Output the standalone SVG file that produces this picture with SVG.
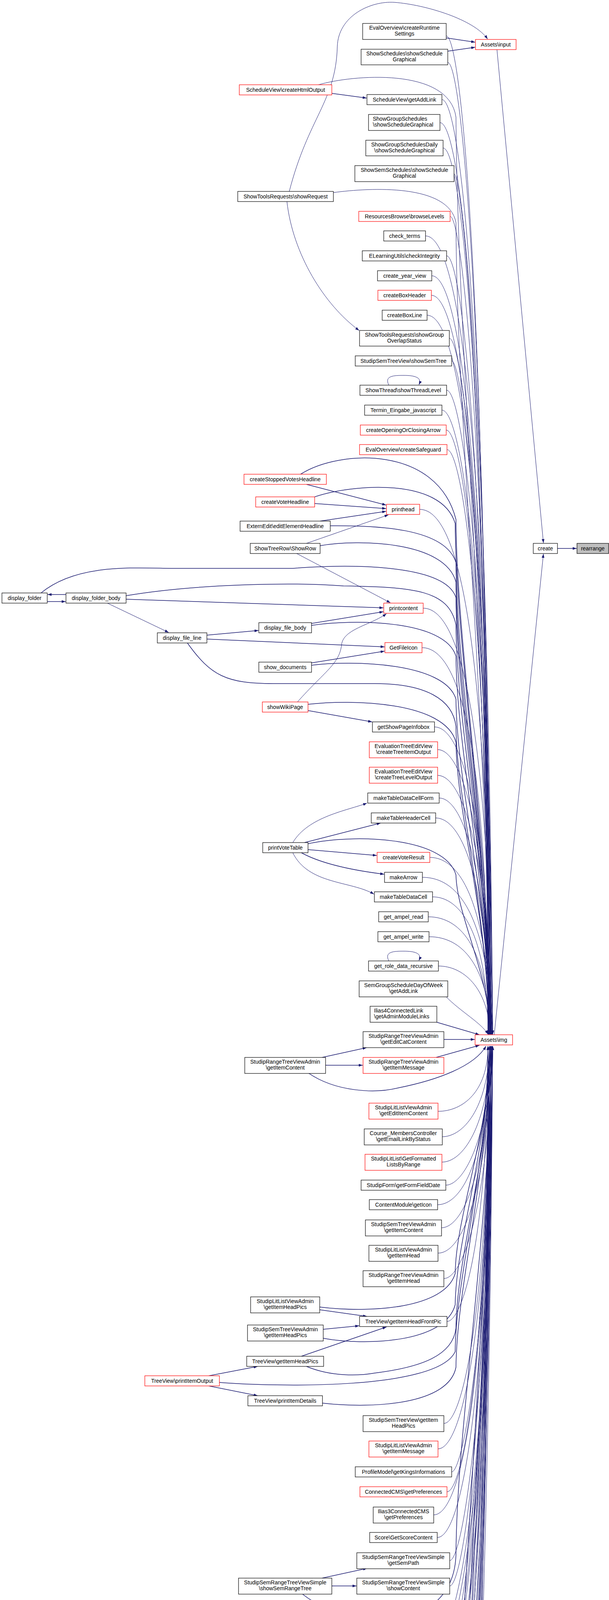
<svg xmlns="http://www.w3.org/2000/svg" width="1560" height="5406" viewBox="0 0 1560 5406">
<style>
.n rect{fill:#fff;stroke:#000;stroke-width:1.2}
.r rect{stroke:#f00}
.g rect{fill:#bfbfbf}
text{font-family:"Liberation Sans",Arial,Helvetica,sans-serif;font-size:14px;fill:#000;text-anchor:middle}
.l text{text-anchor:start}
#edges path{fill:none;stroke:#191970;stroke-width:1;marker-end:url(#a)}
#edges path.t{stroke-width:1.5}
</style>
<defs>
<marker id="a" markerUnits="userSpaceOnUse" viewBox="0 0 11 8" markerWidth="11" markerHeight="8" refX="10" refY="4" orient="auto"><path d="M0,0.5 L10,4 L0,7.5 z" fill="#191970"/></marker>
</defs>
<rect width="1560" height="5406" fill="#fff"/>
<g id="edges">
<path class="t" d="M1143,97 L1217,108"/>
<path class="t" d="M1147,131 L1217,121"/>
<path d="M741,490 C790,300 860,260 864,120 C866,40 950,2 1010,6 C1090,12 1215,50 1249,100"/>
<path d="M735,516 C750,650 830,780 920,846"/>
<path class="t" d="M850,239 L939,251"/>
<path class="t" d="M785,1240 L989,1293"/>
<path class="t" d="M806,1289 L989,1302"/>
<path class="t" d="M820,1334 L989,1309"/>
<path d="M785,1391 L995,1318"/>
<path d="M760,1417 L1000,1543"/>
<path class="t" d="M169,1522 L122,1522"/>
<path class="t" d="M121,1540 L168,1540"/>
<path class="t" d="M323,1534 L982,1556"/>
<path d="M275,1544 L432,1619"/>
<path class="t" d="M530,1626 L662,1614"/>
<path class="t" d="M530,1636 L985,1656"/>
<path class="t" d="M798,1596 L982,1566"/>
<path class="t" d="M798,1697 L985,1667"/>
<path d="M762,1797 C830,1720 870,1700 875,1650 C880,1610 950,1600 990,1571"/>
<path class="t" d="M789,1819 L953,1848"/>
<path d="M750,2157 C790,2090 890,2075 940,2056"/>
<path class="t" d="M780,2157 L975,2107"/>
<path class="t" d="M789,2175 L965,2190"/>
<path class="t" d="M772,2183 C830,2215 920,2230 984,2238"/>
<path d="M750,2183 C790,2265 900,2255 958,2289"/>
<path class="t" d="M834,2727 L929,2727"/>
<path class="t" d="M825,2707 L939,2682"/>
<path class="t" d="M1137,2661 L1216,2661"/>
<path class="t" d="M1117,2707 L1228,2676"/>
<path class="t" d="M1119,2617 L1228,2649"/>
<path d="M1142,2551 C1180,2590 1235,2620 1250,2648"/>
<path class="t" d="M819,3353 L940,3370"/>
<path class="t" d="M828,3403 L920,3394"/>
<path class="t" d="M772,3472 L990,3397"/>
<path class="t" d="M535,3522 L660,3498"/>
<path class="t" d="M535,3548 L660,3573"/>
<path class="t" d="M825,4040 L940,4015"/>
<path class="t" d="M850,4060 L913,4060"/>
<path class="t" d="M822,4805 L941,4816"/>
<path class="t" d="M829,5141 L934,5149"/>
<path class="t" d="M822,5308 L913,5316"/>
<path d="M1273,127 L1392,1390"/>
<path d="M1266,2649 L1392,1418"/>
<path class="t" d="M1428,1404 L1477,1404"/>
<path d="M996,986 C984,962 1008,961 1034,961 C1062,961 1082,966 1073,985"/>
<path d="M996,2460 C984,2436 1008,2435 1034,2435 C1062,2435 1082,2440 1073,2459"/>
<path d="M998,4247 C986,4223 1008,4222 1034,4222 C1062,4222 1082,4227 1073,4246"/>
<path d="M1143,92 C1185,92 1250,859 1250,2648"/>
<path d="M1147,160 C1185,160 1250,906 1254,2648"/>
<path d="M1132,255 C1185,255 1250,973 1258,2648"/>
<path d="M1127,314 C1185,314 1250,1014 1262,2648"/>
<path d="M1135,379 C1185,379 1250,1060 1250,2648"/>
<path d="M1163,445 C1185,445 1250,1106 1254,2648"/>
<path d="M1153,554 C1185,554 1250,1182 1258,2648"/>
<path d="M1090,604 C1185,604 1250,1217 1262,2648"/>
<path d="M1144,655 C1185,655 1250,1253 1250,2648"/>
<path d="M1106,706 C1185,706 1250,1289 1254,2648"/>
<path d="M1105,756 C1185,756 1250,1324 1258,2648"/>
<path d="M1094,807 C1185,807 1250,1359 1262,2648"/>
<path d="M1151,866 C1185,866 1250,1401 1250,2648"/>
<path d="M1157,924 C1185,924 1250,1441 1254,2648"/>
<path d="M1144,999 C1185,999 1250,1494 1258,2648"/>
<path d="M1132,1050 C1185,1050 1250,1529 1262,2648"/>
<path d="M1143,1101 C1185,1101 1250,1565 1250,2648"/>
<path d="M1145,1151 C1185,1151 1250,1600 1254,2648"/>
<path d="M1075,1304 C1185,1304 1250,1707 1258,2648"/>
<path d="M1084,1557 C1185,1557 1250,1884 1262,2648"/>
<path d="M1081,1658 C1185,1658 1250,1955 1250,2648"/>
<path d="M1113,1861 C1185,1861 1250,2097 1254,2648"/>
<path d="M1121,1919 C1185,1919 1250,2138 1258,2648"/>
<path d="M1121,1985 C1185,1985 1250,2184 1262,2648"/>
<path d="M1125,2043 C1185,2043 1250,2225 1250,2648"/>
<path d="M1116,2094 C1185,2094 1250,2260 1254,2648"/>
<path d="M1101,2195 C1185,2195 1250,2331 1258,2648"/>
<path d="M1082,2246 C1185,2246 1250,2367 1262,2648"/>
<path d="M1108,2296 C1185,2296 1250,2402 1250,2648"/>
<path d="M1097,2347 C1185,2347 1250,2437 1254,2648"/>
<path d="M1099,2398 C1185,2398 1250,2473 1258,2648"/>
<path d="M1123,2473 C1185,2473 1250,2526 1256,2648"/>
<path d="M1122,2845 C1185,2845 1250,2795 1250,2678"/>
<path d="M1133,2910 C1185,2910 1250,2840 1254,2678"/>
<path d="M1132,2975 C1185,2975 1250,2886 1258,2678"/>
<path d="M1142,3034 C1185,3034 1250,2927 1262,2678"/>
<path d="M1121,3084 C1185,3084 1250,2962 1250,2678"/>
<path d="M1131,3143 C1185,3143 1250,3003 1254,2678"/>
<path d="M1122,3208 C1185,3208 1250,3049 1258,2678"/>
<path d="M1137,3273 C1185,3273 1250,3094 1262,2678"/>
<path d="M1145,3383 C1185,3383 1250,3171 1250,2678"/>
<path d="M1137,3644 C1185,3644 1250,3354 1254,2678"/>
<path d="M1122,3709 C1185,3709 1250,3400 1258,2678"/>
<path d="M1157,3768 C1185,3768 1250,3441 1262,2678"/>
<path d="M1145,3819 C1185,3819 1250,3477 1250,2678"/>
<path d="M1111,3878 C1185,3878 1250,3518 1254,2678"/>
<path d="M1120,3936 C1185,3936 1250,3559 1258,2678"/>
<path d="M1152,3995 C1185,3995 1250,3600 1262,2678"/>
<path d="M1152,4060 C1185,4060 1250,3645 1250,2678"/>
<path d="M1160,4177 C1185,4177 1250,3727 1254,2678"/>
<path d="M1066,4260 C1185,4260 1250,3785 1258,2678"/>
<path d="M1060,4311 C1185,4311 1250,3821 1262,2678"/>
<path d="M1090,4362 C1185,4362 1250,3857 1250,2678"/>
<path d="M1078,4412 C1185,4412 1250,3892 1254,2678"/>
<path d="M1089,4463 C1185,4463 1250,3927 1258,2678"/>
<path d="M1075,4514 C1185,4514 1250,3963 1262,2678"/>
<path d="M1159,4564 C1185,4564 1250,3998 1250,2678"/>
<path d="M1093,4615 C1185,4615 1250,4034 1254,2678"/>
<path d="M1094,4666 C1185,4666 1250,4070 1258,2678"/>
<path d="M1120,4716 C1185,4716 1250,4105 1262,2678"/>
<path d="M1125,4826 C1185,4826 1250,4182 1250,2678"/>
<path d="M1125,4891 C1185,4891 1250,4227 1254,2678"/>
<path d="M1131,4950 C1185,4950 1250,4268 1258,2678"/>
<path d="M1113,5001 C1185,5001 1250,4304 1262,2678"/>
<path d="M1097,5051 C1185,5051 1250,4339 1250,2678"/>
<path d="M1132,5160 C1185,5160 1250,4415 1254,2678"/>
<path d="M1125,5219 C1185,5219 1250,4457 1258,2678"/>
<path d="M1153,5328 C1185,5328 1250,4533 1262,2678"/>
<path d="M1166,5387 C1185,5387 1250,4574 1250,2678"/>
<path d="M816,217 C900,192 1150,170 1168,300 C1172,887 1250,1709 1256,2648"/>
<path d="M854,493 C950,480 1150,470 1168,570 C1170,1090 1250,1817 1254,2648"/>
<path class="t" d="M770,1214 C870,1150 1120,1140 1168,1330 C1170,1660 1250,2121 1258,2648"/>
<path class="t" d="M806,1272 C900,1240 1130,1220 1166,1340 C1168,1667 1250,2125 1252,2648"/>
<path class="t" d="M846,1346 C960,1345 1140,1350 1168,1440 C1170,1742 1250,2165 1256,2648"/>
<path class="t" d="M820,1397 C920,1380 1140,1385 1168,1490 C1170,1780 1250,2185 1260,2648"/>
<path class="t" d="M105,1518 C200,1440 350,1455 455,1455 L750,1455 C880,1445 1140,1440 1168,1530 C1170,1810 1250,2201 1254,2648"/>
<path class="t" d="M323,1525 C500,1495 750,1490 880,1500 C1060,1503 1150,1510 1168,1600 C1170,1862 1250,2229 1258,2648"/>
<path class="t" d="M480,1646 C540,1730 580,1750 700,1750 L960,1750 C1090,1750 1160,1790 1168,1860 C1170,2057 1250,2333 1252,2648"/>
<path class="t" d="M798,1601 C900,1585 1140,1585 1168,1680 C1170,1922 1250,2261 1256,2648"/>
<path class="t" d="M798,1703 C900,1690 1140,1695 1168,1790 C1170,2005 1250,2305 1260,2648"/>
<path class="t" d="M789,1803 C900,1790 1140,1795 1168,1900 C1170,2087 1250,2349 1254,2648"/>
<path class="t" d="M789,2160 C900,2135 1140,2140 1168,2240 C1170,2342 1250,2485 1258,2648"/>
<path class="t" d="M790,2747 C860,2795 960,2800 1020,2785 C1120,2765 1215,2730 1245,2678"/>
<path class="t" d="M819,3346 C950,3362 1140,3350 1166,3260 C1168,3114 1250,2911 1258,2678"/>
<path class="t" d="M828,3426 C930,3445 1140,3440 1166,3340 C1168,3174 1250,2943 1254,2678"/>
<path class="t" d="M785,3498 C850,3525 920,3522 960,3515 C1080,3500 1160,3470 1168,3400 C1170,3219 1250,2967 1262,2678"/>
<path class="t" d="M562,3539 C700,3550 1120,3560 1166,3460 C1168,3264 1250,2991 1250,2678"/>
<path class="t" d="M826,3592 C960,3607 1150,3595 1168,3500 C1170,3294 1250,3007 1256,2678"/>
<path class="t" d="M775,4081 C850,4140 950,4150 1015,4143 C1100,4133 1165,4080 1168,3980 C1170,3654 1250,3199 1260,2678"/>
<path class="t" d="M822,4791 C950,4770 1150,4740 1168,4650 C1170,4157 1250,3467 1254,2678"/>
<path class="t" d="M829,5125 C950,5105 1150,5080 1168,4990 C1170,4412 1250,3603 1258,2678"/>
<path class="t" d="M822,5293 C950,5270 1150,5245 1168,5150 C1170,4532 1250,3667 1262,2678"/>
</g>
<g id="n_assets_input" class="n r"><rect x="1218" y="101" width="104" height="26"/><text x="1270" y="119">Assets\input</text></g>
<g id="n_assets_img" class="n r"><rect x="1217" y="2649" width="96" height="26"/><text x="1265" y="2667">Assets\img</text></g>
<g id="n_create" class="n"><rect x="1366" y="1391" width="62" height="26"/><text x="1397" y="1409">create</text></g>
<g id="n_rearrange" class="n g"><rect x="1478" y="1391" width="81" height="26"/><text x="1518.5" y="1409">rearrange</text></g>
<g id="n1" class="n"><rect x="929" y="60" width="214" height="41"/><text x="1036" y="76">EvalOverview\createRuntime</text><text x="1036" y="91">Settings</text></g>
<g id="n2" class="n"><rect x="925" y="126" width="222" height="40"/><text x="1036" y="142">ShowSchedules\showSchedule</text><text x="1036" y="157">Graphical</text></g>
<g id="n3" class="n"><rect x="940" y="242" width="192" height="26"/><text x="1036" y="260">ScheduleView\getAddLink</text></g>
<g id="n4" class="n l"><rect x="944" y="293" width="183" height="41"/><text x="955" y="309">ShowGroupSchedules</text><text x="955" y="324">\showScheduleGraphical</text></g>
<g id="n5" class="n"><rect x="937" y="359" width="198" height="40"/><text x="1036" y="375">ShowGroupSchedulesDaily</text><text x="1036" y="390">\showScheduleGraphical</text></g>
<g id="n6" class="n"><rect x="909" y="424" width="254" height="41"/><text x="1036" y="440">ShowSemSchedules\showSchedule</text><text x="1036" y="455">Graphical</text></g>
<g id="n7" class="n r"><rect x="919" y="541" width="234" height="26"/><text x="1036" y="559">ResourcesBrowse\browseLevels</text></g>
<g id="n8" class="n"><rect x="983" y="591" width="107" height="26"/><text x="1036.5" y="609">check_terms</text></g>
<g id="n9" class="n"><rect x="928" y="642" width="216" height="26"/><text x="1036" y="660">ELearningUtils\checkIntegrity</text></g>
<g id="n10" class="n"><rect x="967" y="693" width="139" height="26"/><text x="1036.5" y="711">create_year_view</text></g>
<g id="n11" class="n r"><rect x="968" y="743" width="137" height="26"/><text x="1036.5" y="761">createBoxHeader</text></g>
<g id="n12" class="n"><rect x="979" y="794" width="115" height="26"/><text x="1036.5" y="812">createBoxLine</text></g>
<g id="n13" class="n"><rect x="921" y="846" width="230" height="40"/><text x="1036" y="862">ShowToolsRequests\showGroup</text><text x="1036" y="877">OverlapStatus</text></g>
<g id="n14" class="n"><rect x="910" y="911" width="247" height="26"/><text x="1033.5" y="929">StudipSemTreeView\showSemTree</text></g>
<g id="n15" class="n"><rect x="922" y="986" width="222" height="26"/><text x="1033" y="1004">ShowThread\showThreadLevel</text></g>
<g id="n16" class="n"><rect x="934" y="1037" width="198" height="26"/><text x="1033" y="1055">Termin_Eingabe_javascript</text></g>
<g id="n17" class="n r"><rect x="923" y="1088" width="220" height="26"/><text x="1033" y="1106">createOpeningOrClosingArrow</text></g>
<g id="n18" class="n r"><rect x="921" y="1138" width="224" height="26"/><text x="1033" y="1156">EvalOverview\createSafeguard</text></g>
<g id="n19" class="n r"><rect x="990" y="1291" width="85" height="26"/><text x="1032.5" y="1309">printhead</text></g>
<g id="n20" class="n r"><rect x="983" y="1544" width="101" height="26"/><text x="1033.5" y="1562">printcontent</text></g>
<g id="n21" class="n r"><rect x="986" y="1645" width="95" height="26"/><text x="1033.5" y="1663">GetFileIcon</text></g>
<g id="n22" class="n"><rect x="954" y="1848" width="159" height="26"/><text x="1033.5" y="1866">getShowPageInfobox</text></g>
<g id="n23" class="n r"><rect x="946" y="1899" width="175" height="41"/><text x="1033.5" y="1915">EvaluationTreeEditView</text><text x="1033.5" y="1930">\createTreeItemOutput</text></g>
<g id="n24" class="n r"><rect x="946" y="1964" width="175" height="41"/><text x="1033.5" y="1980">EvaluationTreeEditView</text><text x="1033.5" y="1995">\createTreeLevelOutput</text></g>
<g id="n25" class="n"><rect x="942" y="2030" width="183" height="26"/><text x="1033.5" y="2048">makeTableDataCellForm</text></g>
<g id="n26" class="n"><rect x="951" y="2081" width="165" height="26"/><text x="1033.5" y="2099">makeTableHeaderCell</text></g>
<g id="n27" class="n r"><rect x="966" y="2182" width="135" height="26"/><text x="1033.5" y="2200">createVoteResult</text></g>
<g id="n28" class="n"><rect x="985" y="2233" width="97" height="26"/><text x="1033.5" y="2251">makeArrow</text></g>
<g id="n29" class="n"><rect x="959" y="2283" width="149" height="26"/><text x="1033.5" y="2301">makeTableDataCell</text></g>
<g id="n30" class="n"><rect x="970" y="2334" width="127" height="26"/><text x="1033.5" y="2352">get_ampel_read</text></g>
<g id="n31" class="n"><rect x="968" y="2385" width="131" height="26"/><text x="1033.5" y="2403">get_ampel_write</text></g>
<g id="n32" class="n"><rect x="944" y="2460" width="179" height="26"/><text x="1033.5" y="2478">get_role_data_recursive</text></g>
<g id="n33" class="n"><rect x="920" y="2511" width="227" height="41"/><text x="1033.5" y="2527">SemGroupScheduleDayOfWeek</text><text x="1033.5" y="2542">\getAddLink</text></g>
<g id="n34" class="n l"><rect x="948" y="2576" width="171" height="41"/><text x="958" y="2592">Ilias4ConnectedLink</text><text x="958" y="2607">\getAdminModuleLinks</text></g>
<g id="n35" class="n"><rect x="930" y="2641" width="207" height="41"/><text x="1033.5" y="2657">StudipRangeTreeViewAdmin</text><text x="1033.5" y="2672">\getEditCatContent</text></g>
<g id="n36" class="n r"><rect x="930" y="2707" width="207" height="41"/><text x="1033.5" y="2723">StudipRangeTreeViewAdmin</text><text x="1033.5" y="2738">\getItemMessage</text></g>
<g id="n37" class="n r"><rect x="945" y="2824" width="177" height="41"/><text x="1033.5" y="2840">StudipLitListViewAdmin</text><text x="1033.5" y="2855">\getEditItemContent</text></g>
<g id="n38" class="n"><rect x="933" y="2890" width="200" height="41"/><text x="1033" y="2906">Course_MembersController</text><text x="1033" y="2921">\getEmailLinkByStatus</text></g>
<g id="n39" class="n r"><rect x="935" y="2955" width="197" height="41"/><text x="1033.5" y="2971">StudipLitList\GetFormatted</text><text x="1033.5" y="2986">ListsByRange</text></g>
<g id="n40" class="n"><rect x="925" y="3021" width="217" height="26"/><text x="1033.5" y="3039">StudipForm\getFormFieldDate</text></g>
<g id="n41" class="n"><rect x="946" y="3071" width="175" height="26"/><text x="1033.5" y="3089">ContentModule\getIcon</text></g>
<g id="n42" class="n"><rect x="936" y="3123" width="195" height="41"/><text x="1033.5" y="3139">StudipSemTreeViewAdmin</text><text x="1033.5" y="3154">\getItemContent</text></g>
<g id="n43" class="n"><rect x="945" y="3188" width="177" height="41"/><text x="1033.5" y="3204">StudipLitListViewAdmin</text><text x="1033.5" y="3219">\getItemHead</text></g>
<g id="n44" class="n"><rect x="930" y="3253" width="207" height="41"/><text x="1033.5" y="3269">StudipRangeTreeViewAdmin</text><text x="1033.5" y="3284">\getItemHead</text></g>
<g id="n45" class="n"><rect x="921" y="3370" width="224" height="26"/><text x="1033" y="3388">TreeView\getItemHeadFrontPic</text></g>
<g id="n46" class="n"><rect x="930" y="3624" width="207" height="41"/><text x="1033.5" y="3640">StudipSemTreeView\getItem</text><text x="1033.5" y="3655">HeadPics</text></g>
<g id="n47" class="n r"><rect x="945" y="3689" width="177" height="41"/><text x="1033.5" y="3705">StudipLitListViewAdmin</text><text x="1033.5" y="3720">\getItemMessage</text></g>
<g id="n48" class="n"><rect x="910" y="3755" width="247" height="26"/><text x="1033.5" y="3773">ProfileModel\getKingsInformations</text></g>
<g id="n49" class="n r"><rect x="922" y="3806" width="223" height="26"/><text x="1033.5" y="3824">ConnectedCMS\getPreferences</text></g>
<g id="n50" class="n"><rect x="956" y="3858" width="155" height="41"/><text x="1033.5" y="3874">Ilias3ConnectedCMS</text><text x="1033.5" y="3889">\getPreferences</text></g>
<g id="n51" class="n"><rect x="947" y="3923" width="173" height="26"/><text x="1033.5" y="3941">Score\GetScoreContent</text></g>
<g id="n52" class="n"><rect x="914" y="3975" width="238" height="41"/><text x="1033" y="3991">StudipSemRangeTreeViewSimple</text><text x="1033" y="4006">\getSemPath</text></g>
<g id="n53" class="n"><rect x="914" y="4040" width="238" height="41"/><text x="1033" y="4056">StudipSemRangeTreeViewSimple</text><text x="1033" y="4071">\showContent</text></g>
<g id="n54" class="n r l"><rect x="907" y="4157" width="253" height="41"/><text x="918" y="4173">StudipLitListViewAdmin</text><text x="918" y="4188">\getVisibilityStatusRowForTableBox</text></g>
<g id="n55" class="n r"><rect x="999" y="4247" width="67" height="26"/><text x="1032.5" y="4265">groups</text></g>
<g id="n56" class="n"><rect x="1006" y="4298" width="54" height="26"/><text x="1033" y="4316">head</text></g>
<g id="n57" class="n r"><rect x="977" y="4349" width="113" height="26"/><text x="1033.5" y="4367">image_if_true</text></g>
<g id="n58" class="n"><rect x="989" y="4399" width="89" height="26"/><text x="1033.5" y="4417">info_icons</text></g>
<g id="n59" class="n"><rect x="978" y="4450" width="111" height="26"/><text x="1033.5" y="4468">JS_for_upload</text></g>
<g id="n60" class="n r"><rect x="991" y="4501" width="84" height="26"/><text x="1033" y="4519">link_form</text></g>
<g id="n61" class="n"><rect x="908" y="4551" width="251" height="26"/><text x="1033.5" y="4569">WikiFormat\markupWikiComments</text></g>
<g id="n62" class="n"><rect x="973" y="4602" width="120" height="26"/><text x="1033" y="4620">print_js_export</text></g>
<g id="n63" class="n"><rect x="973" y="4653" width="121" height="26"/><text x="1033.5" y="4671">print_js_import</text></g>
<g id="n64" class="n r"><rect x="947" y="4703" width="173" height="26"/><text x="1033.5" y="4721">SemBrowse\print_level</text></g>
<g id="n65" class="n"><rect x="942" y="4805" width="183" height="41"/><text x="1033.5" y="4821">EvaluationTreeShowUser</text><text x="1033.5" y="4836">\printItemDetails</text></g>
<g id="n66" class="n r"><rect x="942" y="4871" width="183" height="41"/><text x="1033.5" y="4887">EvaluationTreeShowUser</text><text x="1033.5" y="4902">\printLevelOutput</text></g>
<g id="n67" class="n r"><rect x="936" y="4937" width="195" height="26"/><text x="1033.5" y="4955">TreeView\printLevelOutput</text></g>
<g id="n68" class="n"><rect x="954" y="4988" width="159" height="26"/><text x="1033.5" y="5006">SearchWidget\render</text></g>
<g id="n69" class="n"><rect x="970" y="5038" width="127" height="26"/><text x="1033.5" y="5056">showComboDiff</text></g>
<g id="n70" class="n"><rect x="935" y="5140" width="197" height="41"/><text x="1033.5" y="5156">StudipSemTreeViewSimple</text><text x="1033.5" y="5171">\showContent</text></g>
<g id="n71" class="n r"><rect x="942" y="5206" width="183" height="26"/><text x="1033.5" y="5224">ShowList\showListObject</text></g>
<g id="n72" class="n"><rect x="914" y="5308" width="239" height="41"/><text x="1033.5" y="5324">ShowToolsRequests\showOverlap</text><text x="1033.5" y="5339">Status</text></g>
<g id="n73" class="n"><rect x="901" y="5374" width="265" height="26"/><text x="1033.5" y="5392">ShowToolsRequests\showRequestList</text></g>
<g id="m1" class="n r"><rect x="613" y="217" width="237" height="26"/><text x="731.5" y="235">ScheduleView\createHtmlOutput</text></g>
<g id="m2" class="n"><rect x="609" y="490" width="245" height="26"/><text x="731.5" y="508">ShowToolsRequests\showRequest</text></g>
<g id="m3" class="n r"><rect x="625" y="1214" width="211" height="26"/><text x="730.5" y="1232">createStoppedVotesHeadline</text></g>
<g id="m4" class="n r"><rect x="655" y="1272" width="151" height="26"/><text x="730.5" y="1290">createVoteHeadline</text></g>
<g id="m5" class="n"><rect x="615" y="1334" width="231" height="26"/><text x="730.5" y="1352">ExternEdit\editElementHeadline</text></g>
<g id="m6" class="n"><rect x="641" y="1391" width="179" height="26"/><text x="730.5" y="1409">ShowTreeRow\ShowRow</text></g>
<g id="m7" class="n"><rect x="663" y="1594" width="135" height="26"/><text x="730.5" y="1612">display_file_body</text></g>
<g id="m8" class="n"><rect x="663" y="1695" width="135" height="26"/><text x="730.5" y="1713">show_documents</text></g>
<g id="m9" class="n r"><rect x="672" y="1797" width="117" height="26"/><text x="730.5" y="1815">showWikiPage</text></g>
<g id="m10" class="n"><rect x="673" y="2157" width="116" height="26"/><text x="731" y="2175">printVoteTable</text></g>
<g id="m11" class="n"><rect x="627" y="2707" width="207" height="41"/><text x="730.5" y="2723">StudipRangeTreeViewAdmin</text><text x="730.5" y="2738">\getItemContent</text></g>
<g id="m12" class="n"><rect x="642" y="3320" width="177" height="41"/><text x="730.5" y="3336">StudipLitListViewAdmin</text><text x="730.5" y="3351">\getItemHeadPics</text></g>
<g id="m13" class="n"><rect x="634" y="3392" width="194" height="41"/><text x="731" y="3408">StudipSemTreeViewAdmin</text><text x="731" y="3423">\getItemHeadPics</text></g>
<g id="m14" class="n"><rect x="632" y="3472" width="197" height="26"/><text x="730.5" y="3490">TreeView\getItemHeadPics</text></g>
<g id="m15" class="n"><rect x="635" y="3573" width="191" height="26"/><text x="730.5" y="3591">TreeView\printItemDetails</text></g>
<g id="m16" class="n"><rect x="611" y="4040" width="239" height="41"/><text x="730.5" y="4056">StudipSemRangeTreeViewSimple</text><text x="730.5" y="4071">\showSemRangeTree</text></g>
<g id="m17" class="n r"><rect x="639" y="4776" width="183" height="41"/><text x="730.5" y="4792">EvaluationTreeShowUser</text><text x="730.5" y="4807">\printItemOutput</text></g>
<g id="m18" class="n"><rect x="633" y="5111" width="196" height="41"/><text x="731" y="5127">StudipSemTreeViewSimple</text><text x="731" y="5142">\showSemTree</text></g>
<g id="m19" class="n"><rect x="639" y="5279" width="183" height="41"/><text x="730.5" y="5295">ShowSchedulesRequests</text><text x="730.5" y="5310">\showScheduleGraphical</text></g>
<g id="l1" class="n"><rect x="5" y="1518" width="116" height="26"/><text x="63" y="1536">display_folder</text></g>
<g id="l2" class="n"><rect x="169" y="1518" width="154" height="26"/><text x="246" y="1536">display_folder_body</text></g>
<g id="l3" class="n"><rect x="403" y="1620" width="127" height="26"/><text x="466.5" y="1638">display_file_line</text></g>
<g id="l4" class="n r"><rect x="371" y="3522" width="191" height="26"/><text x="466.5" y="3540">TreeView\printItemOutput</text></g>
</svg>
